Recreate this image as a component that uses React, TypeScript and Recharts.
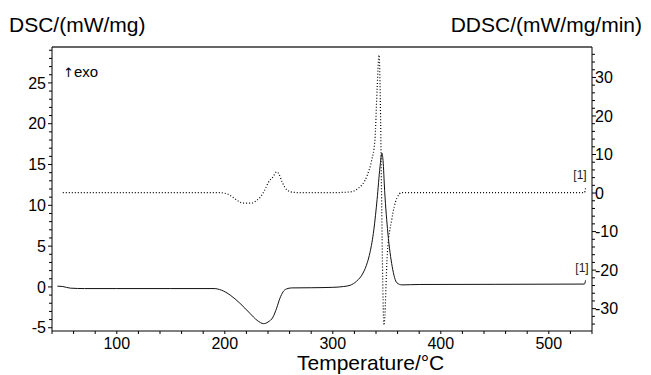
import React from 'react';
import { ComposedChart, Line, XAxis, YAxis, ReferenceLine } from 'recharts';

// DSC curve (left axis, mW/mg)
const dscTemp = [45, 50, 57, 70, 100, 150, 190, 197, 205, 214, 223, 230, 236, 240, 244.6, 248, 251, 254, 257, 262, 280, 300, 310, 316, 322, 328, 332, 334.4, 338, 341, 343.7, 345.5, 346.5, 348, 351, 355, 359.4, 364, 380, 450, 533, 534];
const dscVal = [0.1, 0.05, -0.15, -0.2, -0.2, -0.2, -0.2, -0.4, -1.0, -2.0, -3.2, -4.1, -4.5, -4.3, -3.7, -2.6, -1.4, -0.6, -0.25, -0.12, -0.1, -0.05, 0.05, 0.2, 0.7, 1.7, 3.0, 4.2, 7.0, 10.7, 14.7, 16.4, 15.5, 11.8, 6.6, 2.5, 0.5, 0.25, 0.3, 0.32, 0.35, 0.8];

// DDSC curve (right axis, mW/mg/min)
const ddscTemp = [50, 100, 150, 195, 202, 208, 213, 217, 225, 229, 233, 237, 240, 244.6, 248, 250, 253, 257.6, 263, 270, 300, 316, 323, 332, 336, 339, 341, 342.8, 347.4, 350.5, 354.5, 359.2, 363.8, 380, 533, 534];
const ddscVal = [0.1, 0.1, 0.1, 0.1, -0.2, -1.2, -2.2, -2.6, -2.6, -2.0, -1.0, 0.8, 2.6, 4.2, 5.5, 5.0, 2.9, 0.8, 0.2, 0.1, 0.1, 0.3, 1.1, 4.7, 8.5, 13.8, 26.8, 35.8, -34.3, -15.7, -7.0, -1.4, 0.1, 0.1, 0.1, 1.2];

const xMajorTicks = [100, 200, 300, 400, 500];
const leftMajorTicks = [-5, 0, 5, 10, 15, 20, 25];
const rightMajorTicks = [-30, -20, -10, 0, 10, 20, 30];

const xDomain = [40, 540];
const leftDomain = [-5.4, 29.4];
const rightDomain = [-35.8, 37.9];

const range = (a: number, b: number, s: number) => {
  const out: number[] = [];
  for (let v = a; v <= b + 1e-9; v += s) out.push(Math.round(v * 1000) / 1000);
  return out;
};
const xAllTicks = range(40, 540, 20);
const leftAllTicks = range(-5, 29, 1);
const rightAllTicks = range(-34, 36, 2);

const dscData = dscTemp.map((t, i) => ({ t, dsc: dscVal[i] }));
const ddscData = ddscTemp.map((t, i) => ({ t, ddsc: ddscVal[i] }));

const FONT = 'Liberation Sans, Arial, Helvetica, sans-serif';

const XTick = (props: any) => {
  const { x, y, payload } = props;
  const v = payload.value;
  const major = xMajorTicks.includes(v);
  return (
    <g>
      <line x1={x} x2={x} y1={y} y2={y + 3} stroke="#000" strokeWidth={1} />
      {major && (
        <text x={x} y={y + 18} textAnchor="middle" fontSize={16} fontFamily={FONT} fill="#000">
          {v}
        </text>
      )}
    </g>
  );
};

const LeftTick = (props: any) => {
  const { x, y, payload } = props;
  const v = payload.value;
  const major = leftMajorTicks.includes(v);
  return (
    <g>
      <line x1={x - (major ? 4 : 3)} x2={x} y1={y} y2={y} stroke="#000" strokeWidth={1} />
      {major && (
        <text x={x - 6} y={y} dy="0.36em" textAnchor="end" fontSize={16} fontFamily={FONT} fill="#000">
          {v}
        </text>
      )}
    </g>
  );
};

const RightTick = (props: any) => {
  const { x, y, payload } = props;
  const v = payload.value;
  const major = rightMajorTicks.includes(v);
  return (
    <g>
      <line x1={x} x2={x + (major ? 4 : 3)} y1={y} y2={y} stroke="#000" strokeWidth={1} />
      {major && (
        <text x={x + 3} y={y} dy="0.36em" textAnchor="start" fontSize={16} fontFamily={FONT} fill="#000">
          {v}
        </text>
      )}
    </g>
  );
};

export default function App() {
  return (
    <div style={{ position: 'absolute', left: 0, top: 0, width: 651, height: 375, background: '#fff', fontFamily: FONT }}>
      <ComposedChart width={651} height={375} margin={{ top: 47, right: 0, bottom: 0, left: 0 }}>
        <XAxis
          type="number"
          dataKey="t"
          domain={xDomain}
          allowDataOverflow
          ticks={xAllTicks}
          interval={0}
          height={44}
          tickLine={false}
          tickSize={0}
          tickMargin={0}
          tick={<XTick />}
          axisLine={{ stroke: '#000', strokeWidth: 1 }}
        />
        <YAxis
          yAxisId="left"
          orientation="left"
          type="number"
          domain={leftDomain}
          allowDataOverflow
          ticks={leftAllTicks}
          interval={0}
          width={52}
          tickLine={false}
          tickSize={0}
          tickMargin={0}
          tick={<LeftTick />}
          axisLine={{ stroke: '#000', strokeWidth: 1 }}
        />
        <YAxis
          yAxisId="right"
          orientation="right"
          type="number"
          domain={rightDomain}
          allowDataOverflow
          ticks={rightAllTicks}
          interval={0}
          width={59}
          tickLine={false}
          tickSize={0}
          tickMargin={0}
          tick={<RightTick />}
          axisLine={{ stroke: '#000', strokeWidth: 1 }}
        />
        <ReferenceLine yAxisId="left" y={leftDomain[1]} stroke="#333" strokeWidth={1.5} />
        <Line
          yAxisId="right"
          data={ddscData}
          dataKey="ddsc"
          type="monotone"
          stroke="#000"
          strokeWidth={1.2}
          strokeDasharray="1 2"
          dot={false}
          isAnimationActive={false}
        />
        <Line
          yAxisId="left"
          data={dscData}
          dataKey="dsc"
          type="monotone"
          stroke="#111"
          strokeWidth={1}
          dot={false}
          isAnimationActive={false}
        />
      </ComposedChart>
      <svg width={651} height={375} style={{ position: 'absolute', left: 0, top: 0, pointerEvents: 'none' }}>
        <text x={9} y={32} fontSize={21} fontFamily={FONT} fill="#000">DSC/(mW/mg)</text>
        <text x={642} y={32} fontSize={21} fontFamily={FONT} fill="#000" textAnchor="end">DDSC/(mW/mg/min)</text>
        <text x={297} y={370} fontSize={21} fontFamily={FONT} fill="#000">Temperature/°C</text>
        <text x={63} y={77} fontSize={15} fill="#000">
          <tspan fontFamily="DejaVu Sans" fontSize={13}>{'\u2191\uFE0E'}</tspan>
          <tspan fontFamily={FONT}>exo</tspan>
        </text>
        <text x={580} y={179} fontSize={12} fontFamily={FONT} fill="#222" textAnchor="middle">[1]</text>
        <text x={582} y={272} fontSize={12} fontFamily={FONT} fill="#222" textAnchor="middle">[1]</text>
      </svg>
    </div>
  );
}
